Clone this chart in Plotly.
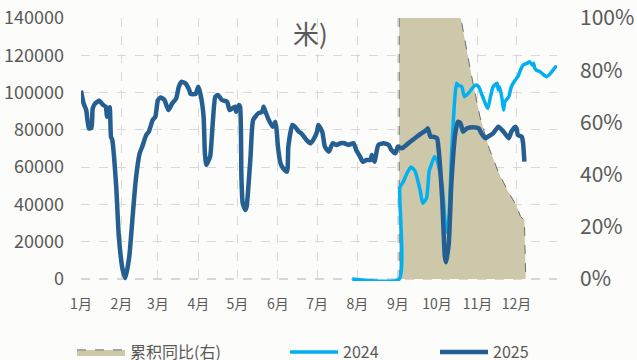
import plotly.graph_objects as go

# ---------------- data ----------------
month_starts = [0, 31, 59, 90, 120, 151, 181, 212, 243, 273, 304, 334, 365]
month_labels = ["1月", "2月", "3月", "4月", "5月", "6月", "7月", "8月", "9月", "10月", "11月", "12月", ""]

# 2025 (day of year, value)
days_2025 = [0, 2, 4, 6, 8, 9, 11, 14, 17, 19, 20, 22, 23, 24, 27, 29, 32, 34, 37, 40,
             42, 45, 47, 50, 52, 55, 57, 59, 61, 64, 67, 70, 73, 75, 77, 80, 83, 84, 88, 89,
             90, 92, 94, 95, 96, 99, 101, 103, 105, 108, 112, 114, 118, 119, 121, 122, 123, 124, 126, 127,
             130, 132, 136, 139, 140, 141, 144, 147, 149, 150, 151, 153, 155, 158, 159, 162, 164, 167, 169, 173,
             176, 178, 181, 182, 185, 187, 190, 193, 196, 199, 202, 205, 209, 211, 214, 216, 219, 222, 223, 225,
             228, 232, 236, 238, 241, 243, 246, 251, 256, 261, 265, 266, 268, 270, 273, 274, 277, 279, 280, 282,
             284, 287, 289, 291, 293, 296, 301, 305, 307, 310, 312, 316, 320, 324, 326, 328, 330, 333, 334, 335,
             338, 339, 340]
values_2025 = [101000, 94200, 90600, 80800, 81000, 91500, 94200, 95600, 93300, 92400, 87000, 92100, 76300, 74500, 49500, 22700, 4800, 500, 12000, 37000,
               53100, 67400, 71000, 77200, 79000, 85300, 87000, 96000, 97400, 96000, 90600, 94200, 96900, 103100, 105800, 105000, 101400, 99200, 99200, 101400,
               103100, 97800, 87000, 67400, 61100, 65600, 83500, 97800, 98700, 96000, 95100, 90600, 92400, 89700, 93300, 92400, 54900, 40600, 37000, 38800,
               65600, 85300, 88900, 89700, 92400, 90600, 85300, 81700, 84400, 79900, 71000, 62000, 59400, 57600, 71000, 82600, 81700, 79000, 78100, 74500,
               72800, 74500, 79000, 82600, 79000, 71000, 68300, 72800, 71900, 72800, 72800, 71900, 72800, 69200, 65600, 62900, 63800, 63800, 66500, 62900,
               71900, 72800, 71900, 69200, 67400, 71000, 70100, 72800, 75500, 78100, 79900, 80800, 76300, 76300, 75500, 71000, 42400, 12000, 9000, 19100,
               51300, 78100, 84400, 83500, 79000, 80800, 81400, 80800, 78100, 75500, 76300, 78100, 81700, 79000, 77200, 75500, 79000, 81700, 80800, 77200,
               76300, 72800, 62900]

# 2024 (day of year, value)
days_2024 = [208, 244, 244.5, 247, 250, 253, 256, 260, 262, 265, 267, 269, 271, 273, 277, 280, 282, 284, 287, 288,
             289, 292, 294, 297, 301, 303, 305, 307, 310, 312, 314, 316, 319, 320, 321, 323, 324, 325, 328, 330,
             333, 335, 337, 339, 342, 344, 346, 347, 348, 349, 352, 355, 357, 360, 362, 364, 365]
values_2024 = [0, 0, 49000, 52000, 56700, 60000, 58000, 47700, 40600, 43500, 58000, 62000, 65600, 63800, 50000, 25000, 31600, 65000, 100000, 105000,
               104000, 103100, 97800, 99600, 103100, 104000, 103100, 99600, 94200, 91500, 97800, 103100, 105000, 101400, 103100, 96000, 90600, 95100, 97800, 103100,
               106700, 108500, 112100, 114800, 115700, 116500, 114800, 115700, 113000, 112100, 111200, 109400, 108500, 110300, 112100, 113900, 113000]

# cumulative YoY (right axis)
days_yoy = [244, 244, 257, 271, 285, 292, 299, 306, 313, 320, 327, 334, 337, 340, 341]
values_yoy = [0, 3.0, 2.2, 1.5, 1.12, 0.98, 0.79, 0.62, 0.50, 0.41, 0.34, 0.28, 0.24, 0.225, 0]

assert len(days_2025) == len(values_2025)
assert len(days_2024) == len(values_2024)

FONT = "Noto Sans CJK SC"
GRAY = "#595959"
GRID = "#D9D9D9"
Y2_MAX = 140000
Y2_PAD = 1100  # small room below zero so the baseline lines are not clipped

W, H = 637, 360
ML, MR, MT, MB = 81, 80, 18, 79
PW, PH = W - ML - MR, H - MT - MB

fig = go.Figure()
fig.add_trace(go.Scatter(
    x=days_yoy, y=values_yoy, name="累积同比(右)", mode="lines",
    fill="tozeroy", fillcolor="#CDC8AA",
    line=dict(color="#6E6E6E", width=1, dash="dash"),
    yaxis="y", legend="legend", showlegend=True))
fig.add_trace(go.Scatter(
    x=days_2024, y=values_2024, name="2024", mode="lines",
    line=dict(color="#00B0F0", width=3.5, shape="spline", smoothing=0.5),
    yaxis="y2", legend="legend2", showlegend=True))
fig.add_trace(go.Scatter(
    x=days_2025, y=values_2025, name="2025", mode="lines",
    line=dict(color="#255E91", width=4.5, shape="spline", smoothing=0.5),
    yaxis="y2", legend="legend3", showlegend=True))

legend_common = dict(orientation="h", yanchor="middle", y=(H - MB - 352) / PH, xanchor="left",
                     itemwidth=48,
                     bgcolor="rgba(0,0,0,0)", font=dict(family=FONT, size=16, color=GRAY))

fig.update_layout(
    width=W, height=H, autosize=False,
    margin=dict(l=ML, r=MR, t=MT, b=MB, autoexpand=False),
    paper_bgcolor="#FCFCFA", plot_bgcolor="#FCFCFA",
    font=dict(family=FONT, color=GRAY),
    showlegend=True,
    xaxis=dict(range=[0, 365], tickmode="array", tickvals=month_starts, ticktext=month_labels,
               showgrid=True, gridcolor=GRID, griddash="dash", gridwidth=1,
               zeroline=False, showline=False, ticks="",
               tickfont=dict(family=FONT, size=14, color=GRAY), ticklabelstandoff=13),
    yaxis=dict(range=[-Y2_PAD / Y2_MAX, 1], side="right", tickvals=[0, 0.2, 0.4, 0.6, 0.8, 1.0], tickformat=".0%",
               showgrid=False, zeroline=False, showline=False, ticks="",
               tickfont=dict(family=FONT, size=21, color=GRAY), ticklabelstandoff=22),
    yaxis2=dict(range=[-Y2_PAD, Y2_MAX], overlaying="y", side="left", tickvals=list(range(0, Y2_MAX + 1, 20000)),
                tickformat="d",
                showgrid=True, gridcolor=GRID, griddash="dash", gridwidth=1,
                zeroline=False, showline=False, ticks="",
                tickfont=dict(family=FONT, size=18, color=GRAY), ticklabelstandoff=16),
    legend=dict(legend_common, x=(72 - ML) / PW),
    legend2=dict(legend_common, x=(285 - ML) / PW),
    legend3=dict(legend_common, x=(435 - ML) / PW),
    shapes=[dict(type="line", xref="paper", yref="y2", x0=0, x1=1, y0=0, y1=0,
                 line=dict(color="#A6A6A6", width=1, dash="dash"), layer="below")],
    annotations=[dict(text="米)", xref="paper", yref="paper", x=0.483, y=0.946,
                      xanchor="center", yanchor="middle",
                      showarrow=False, font=dict(family=FONT, size=26, color=GRAY))],
)

fig.write_html("out.html")
